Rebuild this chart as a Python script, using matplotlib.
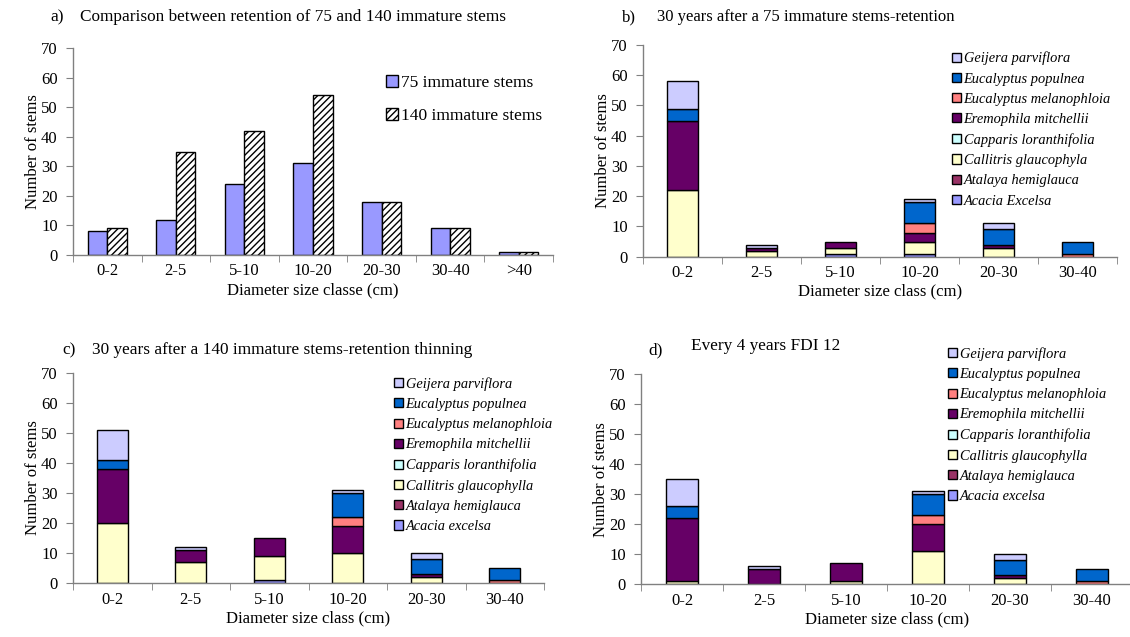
import matplotlib
matplotlib.use("Agg")
import matplotlib.pyplot as plt
import matplotlib.patches as mpatches
import numpy as np

plt.rcParams['font.family'] = ['Liberation Serif', 'DejaVu Serif']
plt.rcParams['hatch.linewidth'] = 1.0

# ---------------- data ----------------
cats_a = ["0-2", "2-5", "5-10", "10-20", "20-30", "30-40", ">40"]
stems75 = [8, 12, 24, 31, 18, 9, 1]
stems140 = [9, 35, 42, 54, 18, 9, 1]

cats = ["0-2", "2-5", "5-10", "10-20", "20-30", "30-40"]
species = ["Acacia excelsa", "Atalaya hemiglauca", "Callitris glaucophylla",
           "Capparis loranthifolia", "Eremophila mitchellii",
           "Eucalyptus melanophloia", "Eucalyptus populnea", "Geijera parviflora"]
colors = ["#9999FF", "#993366", "#FFFFCC", "#CCFFFF", "#660066",
          "#FF8080", "#0066CC", "#CCCCFF"]

# panel b: 30 years after 75 immature stems retention
b_acacia = [0, 0, 1, 1, 0, 0]
b_atalaya = [0, 0, 0, 0, 0, 0]
b_callitris = [22, 2, 2, 4, 3, 0]
b_capparis = [0, 0, 0, 0, 0, 0]
b_eremophila = [23, 1, 2, 3, 1, 0]
b_emel = [0, 0, 0, 3, 0, 1]
b_epop = [4, 0, 0, 7, 5, 4]
b_geijera = [9, 1, 0, 1, 2, 0]

# panel c: 30 years after 140 immature stems retention thinning
c_acacia = [0, 0, 1, 0, 0, 0]
c_atalaya = [0, 0, 0, 0, 0, 0]
c_callitris = [20, 7, 8, 10, 2, 0]
c_capparis = [0, 0, 0, 0, 0, 0]
c_eremophila = [18, 4, 6, 9, 1, 0]
c_emel = [0, 0, 0, 3, 0, 1]
c_epop = [3, 0, 0, 8, 5, 4]
c_geijera = [10, 1, 0, 1, 2, 0]

# panel d: every 4 years FDI 12
d_acacia = [0, 0, 0, 0, 0, 0]
d_atalaya = [0, 0, 0, 0, 0, 0]
d_callitris = [1, 0, 1, 11, 2, 0]
d_capparis = [0, 0, 0, 0, 0, 0]
d_eremophila = [21, 5, 6, 9, 1, 0]
d_emel = [0, 0, 0, 3, 0, 1]
d_epop = [4, 0, 0, 7, 5, 4]
d_geijera = [9, 1, 0, 1, 2, 0]

labels_b = ["Acacia Excelsa", "Atalaya hemiglauca", "Callitris glaucophyla",
            "Capparis loranthifolia", "Eremophila mitchellii",
            "Eucalyptus melanophloia", "Eucalyptus populnea", "Geijera parviflora"]
labels_cd = species

W, H = 1130, 637
fig = plt.figure(figsize=(W / 100, H / 100), dpi=100)

GREY = "#808080"


def make_ax(x0, y_top, x1, y_bot):
    ax = fig.add_axes([x0 / W, 1 - y_bot / H, (x1 - x0) / W, (y_bot - y_top) / H])
    for s in ["top", "right"]:
        ax.spines[s].set_visible(False)
    for s in ["left", "bottom"]:
        ax.spines[s].set_color(GREY)
        ax.spines[s].set_linewidth(1.0)
    ax.set_ylim(0, 70)
    ax.set_yticks(range(0, 71, 10))
    ax.tick_params(axis="y", direction="out", length=5, color=GREY, labelsize=12, pad=6)
    ax.tick_params(axis="x", which="major", length=0, labelsize=12, pad=6)
    ax.tick_params(axis="x", which="minor", direction="out", length=5, color=GREY)
    ax.set_ylabel("Number of stems", fontsize=12, labelpad=0)
    return ax


def finish_x(ax, labels, xlabel):
    n = len(labels)
    ax.set_xlim(-0.5, n - 0.5)
    ax.set_xticks(np.arange(n))
    ax.set_xticklabels(labels)
    ax.set_xticks(np.arange(n + 1) - 0.5, minor=True)
    ax.set_xlabel(xlabel, fontsize=12, labelpad=2)


# ---------------- panel a ----------------
ax = make_ax(73, 48, 553, 255)
x = np.arange(len(cats_a))
w = 0.285
ax.bar(x - w / 2, stems75, w, color="#9999FF", edgecolor="black", linewidth=1.0,
       label="75 immature stems")
ax.bar(x + w / 2, stems140, w, color="white", edgecolor="black", linewidth=1.0,
       hatch="/////", label="140 immature stems")
finish_x(ax, cats_a, "Diameter size classe (cm)")
ax.legend(loc="upper left", bbox_to_anchor=(386 / W, 1 - 75 / H),
          bbox_transform=fig.transFigure, frameon=False, fontsize=12.5,
          handlelength=0.7, handleheight=0.7, handletextpad=0.15, labelspacing=0.95,
          borderpad=0, borderaxespad=0)
fig.text(50 / W, 1 - 17 / H, "a)", fontsize=12.4, va="center")
fig.text(80 / W, 1 - 17 / H, "Comparison between retention of 75 and 140 immature stems",
         fontsize=12.4, va="center")


def stacked(ax, series, labels, leg_x, leg_y):
    n = len(cats)
    x = np.arange(n)
    bottom = np.zeros(n)
    for vals, col in zip(series, colors):
        vals = np.array(vals, dtype=float)
        mask = vals > 0
        ax.bar(x[mask], vals[mask], 0.4, bottom=bottom[mask], color=col,
               edgecolor="black", linewidth=1.0)
        bottom += vals
    finish_x(ax, cats, "Diameter size class (cm)")
    handles = [mpatches.Patch(facecolor=c, edgecolor="black", linewidth=1.0)
               for c in colors][::-1]
    leg = ax.legend(handles, labels[::-1], loc="upper left",
                    bbox_to_anchor=(leg_x, leg_y), bbox_transform=fig.transFigure,
                    frameon=False, prop={"style": "italic", "size": 10.4},
                    handlelength=0.6, handleheight=0.6, handletextpad=0.2,
                    labelspacing=0.5, borderpad=0, borderaxespad=0)
    return leg


# ---------------- panel b ----------------
ax = make_ax(643, 45, 1117, 256.7)
stacked(ax, [b_acacia, b_atalaya, b_callitris, b_capparis, b_eremophila,
             b_emel, b_epop, b_geijera], labels_b, 952 / W, 1 - 51.5 / H)
fig.text(622 / W, 1 - 17 / H, "b)", fontsize=12, va="center")
fig.text(657 / W, 1 - 17 / H, "30 years after a 75 immature stems-retention",
         fontsize=12, va="center")

# ---------------- panel c ----------------
ax = make_ax(73, 372.7, 544, 583.3)
stacked(ax, [c_acacia, c_atalaya, c_callitris, c_capparis, c_eremophila,
             c_emel, c_epop, c_geijera], labels_cd, 394 / W, 1 - 377 / H)
fig.text(62 / W, 1 - 350 / H, "c)", fontsize=12.4, va="center")
fig.text(92 / W, 1 - 350 / H, "30 years after a 140 immature stems-retention thinning",
         fontsize=12.4, va="center")

# ---------------- panel d ----------------
ax = make_ax(641, 374.3, 1133, 584.3)
stacked(ax, [d_acacia, d_atalaya, d_callitris, d_capparis, d_eremophila,
             d_emel, d_epop, d_geijera], labels_cd, 948 / W, 1 - 347 / H)
fig.text(648 / W, 1 - 350 / H, "d)", fontsize=12.4, va="center")
fig.text(691 / W, 1 - 346 / H, "Every 4 years FDI 12", fontsize=12.4, va="center")

fig.savefig("out.png", dpi=100)
